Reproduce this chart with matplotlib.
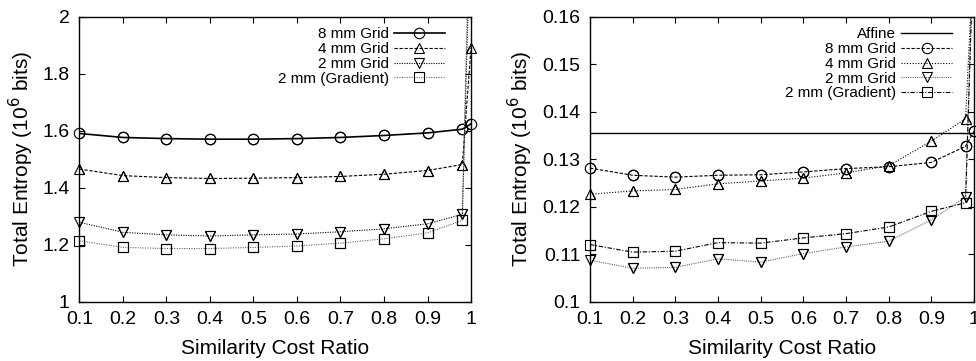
import numpy as np
import matplotlib
matplotlib.use('Agg')
import matplotlib.pyplot as plt
from matplotlib.ticker import FuncFormatter

plt.rcParams['font.family'] = ['Liberation Sans', 'DejaVu Sans']

# similarity cost ratio (x)
ratio = [0.1, 0.2, 0.3, 0.4, 0.5, 0.6, 0.7, 0.8, 0.9, 0.98, 1.0]

# left panel: total entropy (10^6 bits)
left_8mm = [1.590, 1.576, 1.572, 1.570, 1.570, 1.572, 1.576, 1.583, 1.592, 1.605, 1.624]
left_4mm = [1.465, 1.442, 1.435, 1.432, 1.433, 1.435, 1.439, 1.447, 1.460, 1.481, 1.891]
left_2mm = [1.278, 1.243, 1.234, 1.230, 1.234, 1.237, 1.245, 1.255, 1.273, 1.306, 2.40]
left_2mm_grad = [1.213, 1.190, 1.186, 1.186, 1.190, 1.195, 1.205, 1.220, 1.241, 1.285, 2.60]

# right panel
affine = 0.1354
right_8mm = [0.1281, 0.1266, 0.1262, 0.1266, 0.1267, 0.1273, 0.1280, 0.1284, 0.1293, 0.1327, 0.1359]
right_4mm = [0.1226, 0.1233, 0.1236, 0.1248, 0.1254, 0.1260, 0.1271, 0.1286, 0.1338, 0.1385, 0.175]
right_2mm = [0.1087, 0.1070, 0.1072, 0.1090, 0.1083, 0.1101, 0.1115, 0.1127, 0.1172, 0.1220, 0.180]
right_2mm_grad = [0.1120, 0.1104, 0.1106, 0.1124, 0.1123, 0.1134, 0.1143, 0.1157, 0.1190, 0.1208, 0.178]

labels = ['8 mm Grid', '4 mm Grid', '2 mm Grid', '2 mm (Gradient)']

fig = plt.figure(figsize=(9.76, 3.61), dpi=100)
ax1 = fig.add_axes([0.0814, 0.1648, 0.4012, 0.7889])
ax2 = fig.add_axes([0.6045, 0.1648, 0.3935, 0.7889])


def draw(ax, x, y, ls, mk, col, lw, lab, ymax):
    ax.plot(x, y, linestyle=ls, color=col, lw=lw, marker=mk, ms=7.5, mfc='none',
            mec='black', mew=0.8, label=lab)
    # markers at the edge are not clipped (as in the original)
    y = np.array(y)
    ym = np.where(y <= ymax, y, np.nan)
    ax.plot(x, ym, linestyle='none', marker=mk, ms=7.5, mfc='none',
            mec='black', mew=0.8, clip_on=False)


# left
draw(ax1, ratio, left_8mm, '-', 'o', 'black', 1.2, labels[0], 2)
draw(ax1, ratio, left_4mm, (0, (3, 1.5)), '^', 'black', 0.8, labels[1], 2)
draw(ax1, ratio, left_2mm, (0, (1, 1.2)), 'v', 'black', 0.8, labels[2], 2)
draw(ax1, ratio, left_2mm_grad, (0, (1, 1.2)), 's', '#666666', 0.8, labels[3], 2)
ax1.set_xlim(0.1, 1.0)
ax1.set_ylim(1, 2)
ax1.set_yticks([1, 1.2, 1.4, 1.6, 1.8, 2])
ax1.yaxis.set_major_formatter(FuncFormatter(lambda v, p: ('%g' % round(v, 2))))

# right
ax2.axhline(affine, color='black', lw=1.0, label='Affine')
draw(ax2, ratio, right_8mm, (0, (3, 1.5)), 'o', 'black', 0.8, labels[0], 0.16)
draw(ax2, ratio, right_4mm, (0, (1, 1.5)), '^', 'black', 0.8, labels[1], 0.16)
draw(ax2, ratio, right_2mm, (0, (1, 1)), 'v', '#666666', 0.8, labels[2], 0.16)
draw(ax2, ratio, right_2mm_grad, (0, (4, 1.5, 1, 1.5)), 's', 'black', 0.8, labels[3], 0.16)
ax2.set_xlim(0.1, 1.0)
ax2.set_ylim(0.1, 0.16)
ax2.set_yticks([0.1, 0.11, 0.12, 0.13, 0.14, 0.15, 0.16])
ax2.yaxis.set_major_formatter(FuncFormatter(lambda v, p: ('%g' % round(v, 3))))

for ax, anchor in ((ax1, 0.96), (ax2, 0.97)):
    ax.set_xticks([0.1, 0.2, 0.3, 0.4, 0.5, 0.6, 0.7, 0.8, 0.9, 1.0])
    ax.xaxis.set_major_formatter(FuncFormatter(lambda v, p: ('%g' % round(v, 2))))
    ax.tick_params(direction='in', top=True, right=True, length=4, width=0.8,
                   labelsize=14, pad=7)
    ax.set_xlabel('Similarity Cost Ratio', fontsize=15, labelpad=8)
    ax.set_ylabel('Total Entropy (10$^6$ bits)', fontsize=15, labelpad=5)
    for s in ax.spines.values():
        s.set_linewidth(1.0)
    ax.legend(loc='upper right', frameon=False, markerfirst=False, fontsize=11,
              handlelength=3.3, handletextpad=0.35, labelspacing=0.05,
              borderaxespad=0.3, bbox_to_anchor=(anchor, 1.0))

fig.savefig('out.png', dpi=100)
